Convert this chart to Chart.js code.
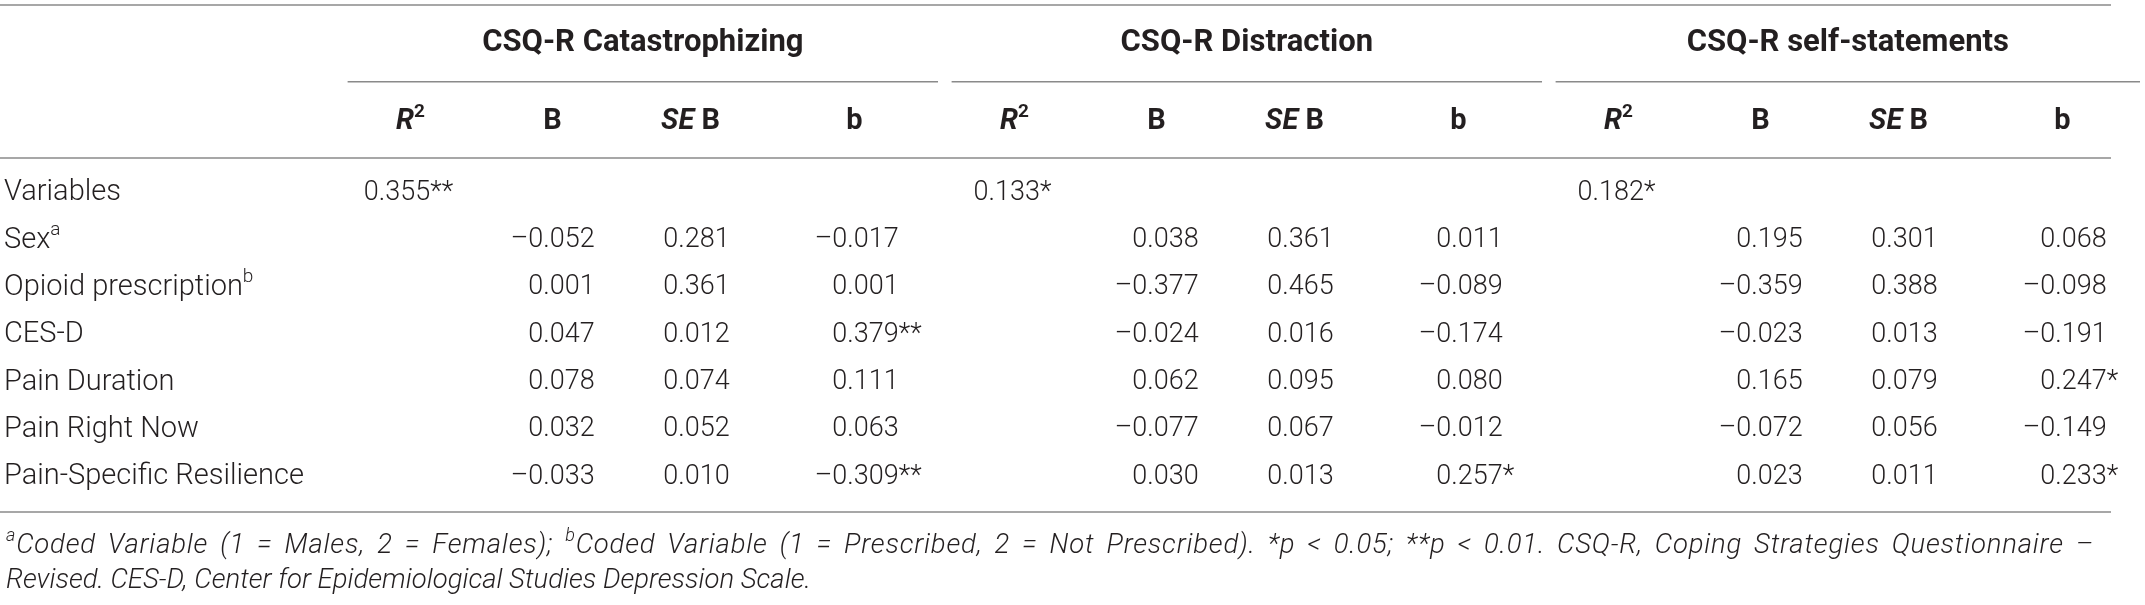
<!DOCTYPE html>
<html>
<head>
<meta charset="utf-8">
<script src="https://cdn.jsdelivr.net/npm/chart.js@4.4.0/dist/chart.umd.min.js"></script>
<style>
  html, body { margin: 0; padding: 0; background: #fff; }
</style>
</head>
<body>
<canvas id="tbl" width="2145" height="605"></canvas>
<script>
// table headings
var groupNames = ["CSQ-R Catastrophizing", "CSQ-R Distraction", "CSQ-R self-statements"];
var colNames = ["R2", "B", "SE B", "b"];
var rowNames = ["Variables", "Sex", "Opioid prescription", "CES-D", "Pain Duration", "Pain Right Now", "Pain-Specific Resilience"];
var rowSup = ["", "a", "b", "", "", "", ""];

// model fit per outcome
var r2 = [0.355, 0.133, 0.182];
var r2Stars = [2, 1, 1];

// CSQ-R Catastrophizing (rows Sex .. Pain-Specific Resilience)
var catB = [-0.052, 0.001, 0.047, 0.078, 0.032, -0.033];
var catSE = [0.281, 0.361, 0.012, 0.074, 0.052, 0.010];
var catBeta = [-0.017, 0.001, 0.379, 0.111, 0.063, -0.309];
var catStars = [0, 0, 2, 0, 0, 2];

// CSQ-R Distraction
var disB = [0.038, -0.377, -0.024, 0.062, -0.077, 0.030];
var disSE = [0.361, 0.465, 0.016, 0.095, 0.067, 0.013];
var disBeta = [0.011, -0.089, -0.174, 0.080, -0.012, 0.257];
var disStars = [0, 0, 0, 0, 0, 1];

// CSQ-R self-statements
var selfB = [0.195, -0.359, -0.023, 0.165, -0.072, 0.023];
var selfSE = [0.301, 0.388, 0.013, 0.079, 0.056, 0.011];
var selfBeta = [0.068, -0.098, -0.191, 0.247, -0.149, 0.233];
var selfStars = [0, 0, 0, 1, 0, 1];

var groupB = [catB, disB, selfB];
var groupSE = [catSE, disSE, selfSE];
var groupBeta = [catBeta, disBeta, selfBeta];
var groupStars = [catStars, disStars, selfStars];

var TXT = "#231f20";
var RULE = "#8a8a8a";
var LABEL = "300 29px Roboto";
var NUM = "300 27px Roboto";
var HEAD = "700 31px Roboto";
var SUB = "700 29px Roboto";
var NOTE = "italic 300 27.5px Roboto";
var NOTESUP = "italic 300 18px Roboto";

// small per-column-type nudges (R2, B, SE B, b) so heads and figures sit like the print
var headNudge = [4, -5, -18, -5];
var cellNudge = [2, 4, -12, 6];

// one category per printed column
var colKeys = [];
for (var g = 0; g < groupNames.length; g++) {
  for (var c = 0; c < colNames.length; c++) {
    colKeys.push("g" + g + "c" + c);
  }
}

function fmt(v) {
  return (v < 0 ? "\u2013" : "") + Math.abs(v).toFixed(3);
}
function stars(n) {
  return n === 2 ? "**" : (n === 1 ? "*" : "");
}

var datasets = [];
for (var g = 0; g < groupNames.length; g++) {
  datasets.push({
    label: colKeys[g * 4],
    col: 0,
    data: [{ x: colKeys[g * 4], y: rowNames[0], v: r2[g], s: r2Stars[g] }]
  });
  var cols = [groupB[g], groupSE[g], groupBeta[g]];
  for (var c = 0; c < 3; c++) {
    var pts = [];
    for (var r = 0; r < cols[c].length; r++) {
      pts.push({
        x: colKeys[g * 4 + c + 1],
        y: rowNames[r + 1],
        v: cols[c][r],
        s: c === 2 ? groupStars[g][r] : 0
      });
    }
    datasets.push({ label: colKeys[g * 4 + c + 1], col: c + 1, data: pts });
  }
}

function runsWidth(ctx, runs) {
  var w = 0;
  runs.forEach(function(r) { ctx.font = r.font; w += ctx.measureText(r.t).width; });
  return w;
}

// draws a run of pieces with their own fonts, left to right
function drawRuns(ctx, runs, x, y, align) {
  var cx = align === "center" ? x - runsWidth(ctx, runs) / 2 : x;
  runs.forEach(function(r) {
    ctx.font = r.font;
    ctx.textAlign = "left";
    ctx.fillText(r.t, cx, y + (r.dy || 0));
    cx += ctx.measureText(r.t).width;
  });
}

// justified line: words are arrays of runs
function drawJustified(ctx, words, x, y, width) {
  var ws = words.map(function(w) { return runsWidth(ctx, w); });
  var total = ws.reduce(function(a, b) { return a + b; }, 0);
  var gap = (width - total) / (words.length - 1);
  var cx = x;
  words.forEach(function(w, i) {
    drawRuns(ctx, w, cx, y, "left");
    cx += ws[i] + gap;
  });
}

function hline(ctx, x1, x2, y) {
  ctx.beginPath();
  ctx.moveTo(x1, y);
  ctx.lineTo(x2, y);
  ctx.stroke();
}

function noteWords(text) {
  return text.split(" ").map(function(t) { return [{ t: t, font: NOTE }]; });
}

var tablePlugin = {
  id: "tableText",
  afterDatasetsDraw: function(chart) {
    var ctx = chart.ctx;
    var xs = chart.scales.x, ys = chart.scales.y;
    var step = ys.getPixelForValue(1) - ys.getPixelForValue(0);
    var colStep = xs.getPixelForValue(1) - xs.getPixelForValue(0);
    var y0 = ys.getPixelForValue(0);
    var yN = ys.getPixelForValue(rowNames.length - 1);
    var ruleEnd = 2111;

    ctx.save();
    ctx.fillStyle = TXT;
    ctx.textBaseline = "middle";

    // rules
    ctx.strokeStyle = RULE;
    ctx.lineWidth = 1.5;
    hline(ctx, 0, ruleEnd, y0 - step * 3.97);
    hline(ctx, 0, ruleEnd, y0 - step * 0.74);
    hline(ctx, 0, ruleEnd, yN + step * 0.74);

    // group titles, their underlines and column heads
    for (var g = 0; g < groupNames.length; g++) {
      var a = xs.getPixelForValue(g * 4) - colStep * 0.39;
      var b = Math.min(xs.getPixelForValue(g * 4 + 3) + colStep * 0.52, 2140);
      hline(ctx, a, b, y0 - step * 2.35);
      ctx.font = HEAD;
      ctx.textAlign = "center";
      ctx.fillText(groupNames[g], (a + b) / 2, y0 - step * 3.17);

      var yh = y0 - step * 1.5;
      for (var c = 0; c < colNames.length; c++) {
        var cx = xs.getPixelForValue(g * 4 + c) + headNudge[c];
        var runs;
        if (c === 0) {
          runs = [{ t: "R", font: "italic " + SUB }, { t: "2", font: "700 19px Roboto", dy: -10 }];
        } else if (c === 2) {
          runs = [{ t: "SE", font: "italic " + SUB }, { t: " B", font: SUB }];
        } else {
          runs = [{ t: colNames[c], font: SUB }];
        }
        drawRuns(ctx, runs, cx, yh, "center");
      }
    }

    // row labels
    for (var r = 0; r < rowNames.length; r++) {
      var yr = ys.getPixelForValue(r);
      var runs = [{ t: rowNames[r], font: LABEL }];
      if (rowSup[r]) runs.push({ t: rowSup[r], font: "300 19px Roboto", dy: -10 });
      drawRuns(ctx, runs, 4, yr, "left");
    }

    // cells, placed at the library's own element positions
    ctx.font = NUM;
    var halfW = ctx.measureText("0.000").width / 2;
    chart.data.datasets.forEach(function(ds, i) {
      var meta = chart.getDatasetMeta(i);
      meta.data.forEach(function(el, j) {
        var d = ds.data[j];
        var x = el.x + cellNudge[ds.col];
        ctx.font = NUM;
        if (ds.col === 0) {
          ctx.textAlign = "center";
          ctx.fillText(fmt(d.v) + stars(d.s), x, el.y);
        } else {
          ctx.textAlign = "right";
          ctx.fillText(fmt(d.v), x + halfW, el.y);
          if (d.s) {
            ctx.textAlign = "left";
            ctx.fillText(stars(d.s), x + halfW, el.y);
          }
        }
      });
    });

    // footnote, first line justified to the table width
    var line1 = [[{ t: "a", font: NOTESUP, dy: -10 }, { t: "Coded", font: NOTE }]]
      .concat(noteWords("Variable (1 = Males, 2 = Females);"))
      .concat([[{ t: "b", font: NOTESUP, dy: -10 }, { t: "Coded", font: NOTE }]])
      .concat(noteWords("Variable (1 = Prescribed, 2 = Not Prescribed). *p < 0.05; **p < 0.01. CSQ-R, Coping Strategies Questionnaire \u2013"));
    ctx.letterSpacing = "0.8px";
    drawJustified(ctx, line1, 6, yN + step * 1.47, 2088);
    ctx.letterSpacing = "0px";
    drawRuns(ctx, [{ t: "Revised. CES-D, Center for Epidemiological Studies Depression Scale.", font: NOTE }],
      6, yN + step * 2.19, "left");

    ctx.restore();
  }
};

new Chart(document.getElementById("tbl"), {
  type: "scatter",
  data: { datasets: datasets },
  options: {
    responsive: false,
    animation: false,
    devicePixelRatio: 1,
    layout: { padding: { left: 331, right: 2, top: 193, bottom: 128 } },
    elements: { point: { radius: 0, hoverRadius: 0 } },
    plugins: { legend: { display: false }, tooltip: { enabled: false } },
    scales: {
      x: { type: "category", labels: colKeys, offset: true, display: false },
      y: { type: "category", labels: rowNames, offset: false, display: false }
    }
  },
  plugins: [tablePlugin]
});
</script>
</body>
</html>
